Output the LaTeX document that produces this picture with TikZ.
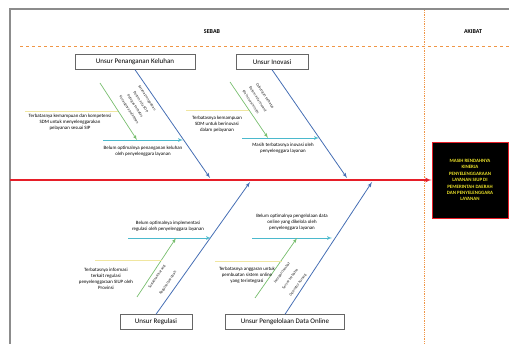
\documentclass[tikz,border=0pt]{standalone}
\usepackage{fontspec}
\setmainfont{Carlito}
\usepackage{tikz}
\usetikzlibrary{arrows}
\definecolor{spinered}{RGB}{230,30,40}
\definecolor{branchblue}{RGB}{70,110,180}
\definecolor{subcyan}{RGB}{75,185,205}
\definecolor{subgreen}{RGB}{120,190,110}
\definecolor{subyellow}{RGB}{240,230,160}
\definecolor{headorange}{RGB}{240,150,70}
\definecolor{effyellow}{RGB}{235,225,40}
\tikzstyle{unsur}=[draw=black!60,fill=white,minimum height=15pt,inner xsep=3pt,inner ysep=2pt,font=\fontsize{7}{8}\selectfont]
\tikzstyle{cause}=[align=center,font=\fontsize{4.9}{5.8}\selectfont,inner sep=1pt]
\tikzstyle{diag}=[font=\fontsize{3.9}{4.5}\selectfont,text=black!85,inner sep=0pt]
\tikzstyle{line} = [draw, -latex']

\begin{document}
\begin{tikzpicture}[x=1pt,y=-1pt]
  \useasboundingbox (0,0) rectangle (509,344);
  \clip (0,0) rectangle (509,344);
  % frame
  \draw[black!45,line width=1.2pt] (10,350) -- (10,9) -- (515,9);
  \node[font=\fontsize{6}{7}\selectfont\bfseries] (sebab) at (212,32) {SEBAB};
  \node[font=\fontsize{6}{7}\selectfont\bfseries] (akibat) at (473,32) {AKIBAT};
  \draw[headorange,dashed,line width=0.6pt] (20,46) -- (509,46);
  \draw[headorange,densely dotted,line width=0.8pt] (424,10) -- (424,344);

  % akibat
  \node[draw=spinered,fill=black,line width=0.8pt,minimum width=76pt,minimum height=76pt,
        align=center,text=effyellow,font=\fontsize{4.9}{6.4}\selectfont\bfseries] (effect) at (470,180)
    {MASIH RENDAHNYA\\KINERJA\\PENYELENGGARAAN\\LAYANAN SIUP DI\\PEMERINTAH DAERAH\\DAN PENYELENGGARA\\LAYANAN};
  \coordinate (tail) at (10,180);
  \path[line,spinered,line width=1.2pt] (tail) -- (effect.west);

  % unsur
  \node[unsur,minimum width=120pt] (keluhan) at (135,62) {Unsur Penanganan Keluhan};
  \node[unsur,minimum width=72pt] (inovasi) at (272,62) {Unsur Inovasi};
  \node[unsur,minimum width=72pt] (regulasi) at (156,322) {Unsur Regulasi};
  \node[unsur,minimum width=119pt] (dataonline) at (285,322) {Unsur Pengelolaan Data Online};
  \coordinate (s1) at (210,178);
  \coordinate (s2) at (347,178);
  \coordinate (s3) at (250,182);
  \coordinate (s4) at (372,182);
  \path[line,branchblue,line width=0.8pt] (keluhan.south) -- (s1);
  \path[line,branchblue,line width=0.8pt] (inovasi.south) -- (s2);
  \path[line,branchblue,line width=0.8pt] (regulasi.north) -- (s3);
  \path[line,branchblue,line width=0.8pt] (dataonline.north) -- (s4);

  % unsur penanganan keluhan
  \coordinate (k1) at (183,140);
  \coordinate (h1) at (103,140);
  \coordinate (g1a) at (100,83);
  \coordinate (g1) at (137,140);
  \coordinate (y1a) at (25,111);
  \coordinate (y1) at (118,111);
  \path[line,subcyan,line width=0.7pt] (h1) -- (k1);
  \path[line,subgreen,line width=0.7pt] (g1a) -- (g1);
  \draw[subyellow,line width=0.7pt] (y1a) -- (y1);
  \node[cause] (c1) at (143,151) {Belum optimalnya penanganan keluhan\\oleh penyelenggara layanan};
  \node[cause] (c1b) at (70,122) {Terbatasnya kemampuan dan kompetensi\\SDM untuk menyelenggarakan\\pelayanan sesuai SIP};
  \node[diag,rotate=-57] (d11) at (129,110) {Kurangnya pelatihan};
  \node[diag,rotate=-57] (d12) at (135,106) {Petugas terbatas};
  \node[diag,rotate=-57] (d13) at (141,102) {Belum ada SOP};
  \node[diag,rotate=-57] (d14) at (147,98) {Sarana pengaduan};

  % unsur inovasi
  \coordinate (k2) at (319,138);
  \coordinate (h2) at (242,138);
  \coordinate (g2a) at (230,82);
  \coordinate (g2) at (268,138);
  \coordinate (y2a) at (186,110);
  \coordinate (y2) at (249,110);
  \path[line,subcyan,line width=0.7pt] (h2) -- (k2);
  \path[line,subgreen,line width=0.7pt] (g2a) -- (g2);
  \draw[subyellow,line width=0.7pt] (y2a) -- (y2);
  \node[cause] (c2) at (283,148) {Masih terbatasnya inovasi oleh\\penyelenggara layanan};
  \node[cause] (c2b) at (217,124) {Terbatasnya kemampuan\\SDM untuk berinovasi\\dalam pelayanan};
  \node[diag,rotate=-57] (d21) at (251,102) {Ide inovasi minim};
  \node[diag,rotate=-57] (d22) at (258,99) {Belum ada reward};
  \node[diag,rotate=-57] (d23) at (265,96) {Dukungan terbatas};

  % unsur regulasi
  \coordinate (k3) at (211,238);
  \coordinate (h3) at (128,238);
  \coordinate (g3a) at (137,297);
  \coordinate (g3) at (176,238);
  \coordinate (y3a) at (95,260);
  \coordinate (y3) at (162,260);
  \path[line,subcyan,line width=0.7pt] (h3) -- (k3);
  \path[line,subgreen,line width=0.7pt] (g3a) -- (g3);
  \draw[subyellow,line width=0.7pt] (y3a) -- (y3);
  \node[cause] (c3) at (168,226) {Belum optimalnya implementasi\\regulasi oleh penyelenggara layanan};
  \node[cause] (c3b) at (106,279) {Terbatasnya informasi\\terkait regulasi\\penyelenggaraan SIUP oleh\\Provinsi};
  \node[diag,rotate=56] (d31) at (157,277) {Sosialisasi kurang};
  \node[diag,rotate=56] (d32) at (168,283) {Regulasi berubah};

  % unsur pengelolaan data online
  \coordinate (k4) at (332,238);
  \coordinate (h4) at (252,238);
  \coordinate (g4a) at (255,298);
  \coordinate (g4) at (297,238);
  \coordinate (y4a) at (215,261);
  \coordinate (y4) at (282,261);
  \path[line,subcyan,line width=0.7pt] (h4) -- (k4);
  \path[line,subgreen,line width=0.7pt] (g4a) -- (g4);
  \draw[subyellow,line width=0.7pt] (y4a) -- (y4);
  \node[cause] (c4) at (292,222) {Belum optimalnya pengelolaan data\\online yang dikelola oleh\\penyelenggara layanan};
  \node[cause] (c4b) at (247,275) {Terbatasnya anggaran untuk\\pembuatan sistem online\\yang terintegrasi};
  \node[diag,rotate=54] (d41) at (282,273) {Jaringan lambat};
  \node[diag,rotate=54] (d42) at (290,279) {Server terbatas};
  \node[diag,rotate=54] (d43) at (298,285) {Operator kurang};
\end{tikzpicture}
\end{document}
